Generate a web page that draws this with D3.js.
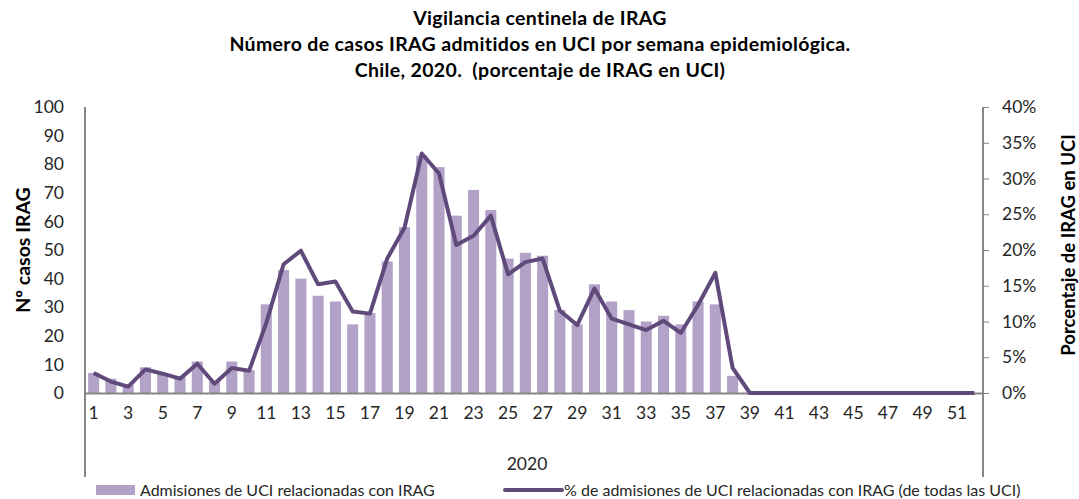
<!DOCTYPE html>
<html>
<head>
<meta charset="utf-8">
<script src="https://cdn.jsdelivr.net/npm/d3@7"></script>
<style>
  body { margin: 0; background: #fff; }
  svg { font-family: Lato, "Open Sans", sans-serif; }
</style>
</head>
<body>
<svg id="canvas"></svg>
<script>
//--datos: semanas epidemiológicas 2020
const weeks = d3.range(1, 53);
const casos = [7, 5, 3, 9, 7, 6, 11, 4, 11, 8, 31, 43, 40, 34, 32, 24, 28, 46, 58, 83,
  79, 62, 71, 64, 47, 49, 48, 29, 24, 38, 32, 29, 25, 27, 24, 32, 31, 6, 0, 0,
  0, 0, 0, 0, 0, 0, 0, 0, 0, 0, 0, 0];
const pctUci = [2.8, 1.6, 0.9, 3.3, 2.7, 2.0, 4.1, 1.3, 3.5, 3.1, 9.8, 18.0, 19.9, 15.2, 15.6, 11.4, 11.1, 18.8, 23.1, 33.5,
  30.7, 20.7, 22.0, 24.8, 16.6, 18.3, 18.8, 11.5, 9.5, 14.6, 10.4, 9.6, 8.8, 10.1, 8.4, 12.3, 16.8, 3.5, 0, 0,
  0, 0, 0, 0, 0, 0, 0, 0, 0, 0, 0, 0];
const leftTicks = d3.range(0, 101, 10);
const rightTicks = d3.range(0, 41, 5);
const xTicks = weeks.filter(w => w % 2 === 1);
const titleLines = ["Vigilancia centinela de IRAG",
  "Número de casos IRAG admitidos en UCI por semana epidemiológica.",
  "Chile, 2020.  (porcentaje de IRAG en UCI)"];
const seriesNames = ["Admisiones de UCI relacionadas con IRAG",
  "% de admisiones de UCI relacionadas con IRAG (de todas las UCI)"];
//--

//--dimensiones
let width = 1079;
let height = 499;
let mLeft = 85, mRight = 983, mTop = 107, mBottom = 393;
const barColor = "#b3a2c7";
const lineColor = "#604a7b";
const axisColor = "#868686";
//--

let canvas = d3.select("#canvas").attr("width", width).attr("height", height);

let x = d3.scaleBand().domain(weeks).range([mLeft, mRight]).paddingInner(0.36).paddingOuter(0.18);
let yL = d3.scaleLinear().domain([0, 100]).range([mBottom, mTop]);
let yR = d3.scaleLinear().domain([0, 40]).range([mBottom, mTop]);

// titulo
canvas.append("g").selectAll("text")
  .data(titleLines)
  .enter()
  .append("text")
  .attr("x", 540)
  .attr("y", (d, i) => 25 + i * 26)
  .attr("text-anchor", "middle")
  .attr("font-weight", "bold")
  .attr("font-size", 19.5)
  .attr("letter-spacing", 0.35)
  .style("white-space", "pre")
  .attr("fill", "#000")
  .text(d => d);

// barras
canvas.append("g").selectAll("rect")
  .data(weeks)
  .enter()
  .append("rect")
  .attr("x", d => x(d))
  .attr("width", x.bandwidth())
  .attr("y", (d, i) => yL(casos[i]))
  .attr("height", (d, i) => mBottom - yL(casos[i]))
  .attr("fill", barColor);

// ejes
let gx = canvas.append("g")
  .attr("transform", `translate(0,${mBottom})`)
  .call(d3.axisBottom(x).tickValues(xTicks).tickSize(0).tickPadding(14));
gx.select(".domain").attr("stroke", axisColor).attr("stroke-width", 2);

let gl = canvas.append("g")
  .attr("transform", `translate(${mLeft},0)`)
  .call(d3.axisLeft(yL).tickValues(leftTicks).tickSize(0).tickPadding(21));
gl.select(".domain").remove();

let gr = canvas.append("g")
  .attr("transform", `translate(${mRight},0)`)
  .call(d3.axisRight(yR).tickValues(rightTicks).tickSize(6).tickSizeOuter(6).tickPadding(13)
    .tickFormat(d => d + "%"));
gr.select(".domain").remove();
gr.selectAll("line").attr("stroke", axisColor);

[gx, gl, gr].forEach(g => g.selectAll("text")
  .attr("font-family", "Lato, sans-serif")
  .attr("font-size", 17.5)
  .attr("fill", "#262626"));

// lineas verticales de los ejes (incluyen el nivel de categoría "2020")
canvas.append("g").selectAll("line")
  .data([mLeft, mRight])
  .enter()
  .append("line")
  .attr("x1", d => d).attr("x2", d => d)
  .attr("y1", mTop).attr("y2", 477)
  .attr("stroke", axisColor)
  .attr("stroke-width", 2);

canvas.append("text")
  .attr("x", (mLeft + mRight) / 2 - 7)
  .attr("y", 470)
  .attr("text-anchor", "middle")
  .attr("font-size", 17.5)
  .attr("fill", "#262626")
  .text("2020");

// linea de porcentaje
let line = d3.line()
  .x(d => x(d) + x.bandwidth() / 2)
  .y((d, i) => yR(pctUci[i]));

canvas.append("path")
  .datum(weeks)
  .attr("d", line)
  .attr("fill", "none")
  .attr("stroke", lineColor)
  .attr("stroke-width", 4)
  .attr("stroke-linejoin", "round");

// titulos de ejes
canvas.append("text")
  .attr("transform", `translate(30,${(mTop + mBottom) / 2}) rotate(-90)`)
  .attr("text-anchor", "middle")
  .attr("font-weight", "bold")
  .attr("font-size", 19.5)
  .text("Nº casos IRAG");

canvas.append("text")
  .attr("transform", `translate(1075,${(mTop + mBottom) / 2 - 5}) rotate(-90)`)
  .attr("text-anchor", "middle")
  .attr("font-weight", "bold")
  .attr("font-size", 18.5)
  .text("Porcentaje de IRAG en UCI");

// leyenda
let lg = canvas.append("g").attr("font-size", 16).attr("fill", "#262626");
lg.append("rect").attr("x", 96).attr("y", 485).attr("width", 39).attr("height", 10).attr("fill", barColor);
lg.append("text").attr("x", 140).attr("y", 496).attr("fill", "#262626").text(seriesNames[0]);
lg.append("line").attr("x1", 505).attr("x2", 562).attr("y1", 490).attr("y2", 490)
  .attr("stroke", lineColor).attr("stroke-width", 4).attr("stroke-linecap", "round");
lg.append("text").attr("x", 564).attr("y", 496).attr("fill", "#262626").text(seriesNames[1]);
</script>
</body>
</html>
